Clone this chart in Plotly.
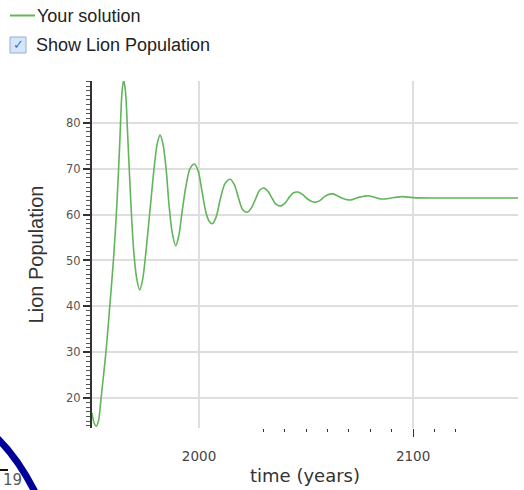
import plotly.graph_objects as go

# Data (year, lion population)
years = [1950.0, 1951.0, 1952.0, 1953.0, 1954.3, 1956.5, 1958.3, 1960.0, 1961.6, 1963.0,
         1964.0, 1964.8, 1965.7, 1966.6, 1968.0, 1969.5, 1970.9, 1972.3, 1973.7, 1975.0,
         1977.0, 1979.1, 1980.5, 1981.8, 1983.1, 1984.6, 1986.0, 1987.5, 1989.1, 1990.6,
         1992.2, 1994.0, 1995.8, 1997.8, 1999.6, 2001.4, 2003.2, 2004.8, 2006.2, 2008.0,
         2010.0, 2012.2, 2014.5, 2016.5, 2018.5, 2020.5, 2022.6, 2024.5, 2026.5, 2028.3,
         2030.3, 2032.3, 2034.2, 2036.0, 2038.2, 2040.2, 2042.2, 2044.0, 2046.2, 2048.3,
         2050.4, 2052.4, 2054.6, 2056.6, 2058.6, 2060.6, 2062.6, 2064.6, 2066.6, 2068.6,
         2071.0, 2073.0, 2075.0, 2077.0, 2079.0, 2081.0, 2083.0, 2085.0, 2087.0, 2091.0,
         2095.0, 2100.0, 2110.0, 2120.0, 2135.0, 2150.0]
lions = [16.8, 14.6, 13.9, 15.0, 20.3, 30.0, 40.0, 50.0, 62.0, 76.0,
         86.5, 89.3, 86.5, 78.0, 64.0, 52.0, 46.0, 43.6, 46.0, 51.0,
         60.5, 70.5, 75.5, 77.3, 75.5, 70.0, 62.0, 56.0, 53.2, 55.5,
         61.0, 66.5, 70.0, 71.0, 69.5, 65.0, 60.5, 58.5, 58.0, 59.5,
         63.5, 66.8, 67.7, 66.5, 63.5, 61.0, 60.5, 61.5, 63.5, 65.3,
         65.8, 65.0, 63.5, 62.2, 61.9, 62.5, 63.8, 64.7, 64.9, 64.4,
         63.5, 62.9, 62.7, 63.1, 63.9, 64.4, 64.5, 64.1, 63.6, 63.3,
         63.2, 63.5, 63.8, 64.0, 64.1, 63.9, 63.6, 63.4, 63.4, 63.7,
         63.9, 63.7, 63.6, 63.6, 63.6, 63.6]

x_tick_vals = [2000, 2100]
x_tick_text = ["2000", "2100"]
x_minor_vals = [2030, 2040, 2050, 2060, 2070, 2080, 2090, 2110, 2120]
y_tick_vals = [20, 30, 40, 50, 60, 70, 80]

W, H = 524, 490
ML, MR, MT, MB = 92, 6, 81, 62
PW, PH = W - ML - MR, H - MT - MB
X_RANGE = [1950, 2149]
Y_RANGE = [13.5, 89.1]

GREEN = "#62b55a"


def px_x(p):
    return (p - ML) / PW


def px_y(p):
    return (H - MB - p) / PH


fig = go.Figure()
fig.add_trace(go.Scatter(
    x=years, y=lions, mode="lines", name="Your solution",
    line=dict(color=GREEN, width=1.6, shape="spline", smoothing=0.9),
    showlegend=False, hoverinfo="skip",
))
# invisible trace to anchor the overlay axis that carries the single long tick
fig.add_trace(go.Scatter(x=[None], y=[None], xaxis="x2", showlegend=False,
                         hoverinfo="skip"))

fig.update_layout(
    width=W, height=H,
    margin=dict(l=ML, r=MR, t=MT, b=MB, autoexpand=False),
    paper_bgcolor="white", plot_bgcolor="white",
    showlegend=False,
    xaxis=dict(
        range=X_RANGE, tickvals=x_tick_vals, ticktext=x_tick_text,
        ticks="", showline=False, zeroline=False,
        showgrid=True, gridcolor="#dedede", gridwidth=2,
        tickfont=dict(family="DejaVu Sans", size=13.5, color="#444"),
        ticklabelstandoff=18,
        automargin=False,
        title=dict(text="time (years)", standoff=6,
                   font=dict(family="DejaVu Sans", size=18, color="#333")),
        minor=dict(tickvals=x_minor_vals, ticks="outside", ticklen=3,
                   tickcolor="#333", tickwidth=1, showgrid=False),
    ),
    xaxis2=dict(
        range=X_RANGE, overlaying="x", anchor="y", side="bottom",
        tickvals=[2100], ticks="outside", ticklen=8, tickcolor="#333",
        tickwidth=1, showticklabels=False, showgrid=False, showline=False,
        zeroline=False,
    ),
    yaxis=dict(
        range=Y_RANGE, tickvals=y_tick_vals, ticks="outside", ticklen=7,
        tickcolor="#333", tickwidth=1.5,
        showline=True, linecolor="#333", linewidth=2, zeroline=False,
        showgrid=True, gridcolor="#dedede", gridwidth=2,
        tickfont=dict(family="DejaVu Sans", size=11.5, color="#555"),
        automargin=False,
        title=dict(text="Lion Population", standoff=17,
                   font=dict(family="Liberation Sans", size=20, color="#333")),
        minor=dict(dtick=1, ticks="outside", ticklen=4, tickcolor="#555",
                   tickwidth=1, showgrid=False),
    ),
)

# Header: legend line + label, checkbox + label
fig.add_shape(type="line", xref="paper", yref="paper",
              x0=px_x(10), x1=px_x(35), y0=px_y(15.5), y1=px_y(15.5),
              line=dict(color=GREEN, width=2))
fig.add_annotation(text="Your solution", xref="paper", yref="paper",
                   x=px_x(35), y=px_y(16), xanchor="left", yanchor="middle",
                   showarrow=False,
                   font=dict(family="Liberation Sans", size=18, color="#222"))
fig.add_shape(type="rect", xref="paper", yref="paper",
              x0=px_x(10), x1=px_x(26), y0=px_y(37), y1=px_y(53),
              fillcolor="#d6e6f8", line=dict(color="#8fb0d8", width=1))
fig.add_annotation(text="✓", xref="paper", yref="paper",
                   x=px_x(18), y=px_y(45), xanchor="center", yanchor="middle",
                   showarrow=False,
                   font=dict(family="DejaVu Sans", size=13, color="#3d78c4"))
fig.add_annotation(text="Show Lion Population", xref="paper", yref="paper",
                   x=px_x(34), y=px_y(45), xanchor="left", yanchor="middle",
                   showarrow=False,
                   font=dict(family="Liberation Sans", size=18, color="#222"))

# bottom-left fragment of the screenshot
fig.add_annotation(text="19", xref="paper", yref="paper",
                   x=px_x(1), y=px_y(480), xanchor="left", yanchor="middle",
                   showarrow=False,
                   font=dict(family="DejaVu Sans", size=15, color="#555"))
fig.add_shape(type="line", xref="paper", yref="paper",
              x0=px_x(0), x1=px_x(8), y0=px_y(470), y1=px_y(470),
              line=dict(color="#111", width=2))
fig.add_shape(type="path", xref="paper", yref="paper",
              path=f"M {px_x(-4)},{px_y(437)} Q {px_x(18)},{px_y(458)} {px_x(36)},{px_y(494)}",
              line=dict(color="#000099", width=7))

fig.write_html("out.html", config={"displayModeBar": False},
               post_script="document.body.style.margin='0px';document.body.style.overflow='hidden';")
